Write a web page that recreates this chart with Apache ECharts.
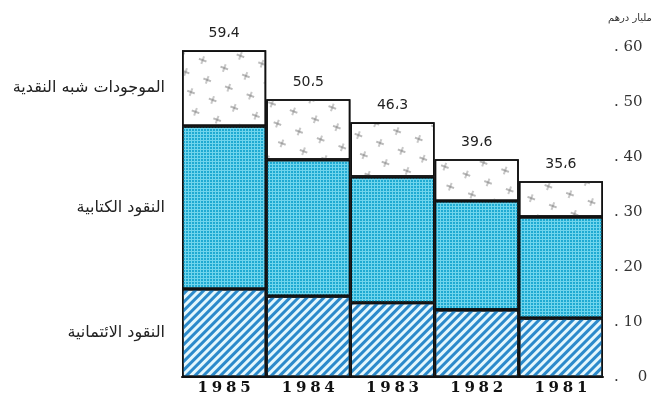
<!DOCTYPE html>
<html>
<head>
<meta charset="utf-8">
<script src="https://cdn.jsdelivr.net/npm/echarts@6/dist/echarts.min.js"></script>
<style>
  html, body { margin: 0; padding: 0; background: #fff; }
  #main { width: 653px; height: 406px; }
</style>
</head>
<body>
<div id="main"></div>
<script>
// years, left to right as in the picture
const years = ['1985', '1984', '1983', '1982', '1981'];
// milliards of dirhams
const creditMoney = [16.0, 14.7, 13.5, 12.2, 10.7];   // hatched, bottom
const bookMoney = [29.6, 24.8, 22.9, 19.8, 18.4];     // cyan grid, middle
const nearMoney = [13.8, 11.0, 9.9, 7.6, 6.5];        // crosses, top
const totals = [59.4, 50.5, 46.3, 39.6, 35.6];
const totalLabels = ['59،4', '50،5', '46،3', '39،6', '35،6'];
const seriesNames = ['النقود الائتمانية', 'النقود الكتابية', 'الموجودات شبه النقدية'];
const unitName = 'مليار درهم';

const chart = echarts.init(document.getElementById('main'));

const arabicFont = 'DejaVu Sans';
const border = { borderColor: '#111', borderWidth: 1.6 };

// only the 1985 bar carries the series name on its left side
function withSideLabel(values) {
  return values.map(function (v, i) {
    if (i === 0) {
      return { value: v, label: { show: true } };
    }
    return v;
  });
}

function sideLabel(name) {
  return {
    show: false,
    position: 'left',
    distance: 17,
    formatter: name,
    fontFamily: arabicFont,
    fontSize: 16,
    color: '#222'
  };
}

const plusPath = 'path://M4.5,0 H5.5 V4.5 H10 V5.5 H5.5 V10 H4.5 V5.5 H0 V4.5 H4.5 Z';

var option = {
  backgroundColor: '#ffffff',
  animation: false,
  grid: { left: 182, right: 50, top: 47, bottom: 29, outerBoundsMode: 'none' },
  xAxis: {
    type: 'category',
    data: years,
    axisTick: { show: false },
    axisLine: { lineStyle: { color: '#111', width: 2 } },
    axisLabel: {
      margin: 4,
      fontFamily: 'DejaVu Serif',
      fontWeight: 'bold',
      fontSize: 15,
      color: '#111',
      formatter: function (v) { return v.split('').join('\u2005'); }
    }
  },
  yAxis: {
    type: 'value',
    position: 'right',
    min: 0,
    max: 60,
    interval: 10,
    name: unitName,
    nameLocation: 'end',
    nameGap: 24,
    nameTextStyle: { fontFamily: arabicFont, fontSize: 10, color: '#333', align: 'left', padding: [0, 0, 0, 5] },
    splitLine: { show: false },
    axisLine: { show: false },
    axisTick: { show: false },
    axisLabel: {
      margin: 11,
      fontFamily: 'DejaVu Serif',
      fontSize: 15,
      color: '#333',
      formatter: function (v) { return v === 0 ? '.\u2007\u20070' : '. ' + v; }
    }
  },
  series: [
    {
      name: seriesNames[0],
      type: 'bar',
      stack: 'money',
      barCategoryGap: 0,
      data: withSideLabel(creditMoney),
      label: sideLabel(seriesNames[0]),
      itemStyle: Object.assign({
        color: '#e4f7fd',
        decal: {
          symbol: 'rect',
          color: '#2c8acb',
          dashArrayX: [1, 0],
          dashArrayY: [2.2, 2.4],
          rotation: -Math.PI / 4
        }
      }, border)
    },
    {
      name: seriesNames[1],
      type: 'bar',
      stack: 'money',
      data: withSideLabel(bookMoney),
      label: sideLabel(seriesNames[1]),
      itemStyle: Object.assign({
        color: '#70d5ec',
        decal: {
          symbol: 'rect',
          color: '#1faad2',
          dashArrayX: [2, 1],
          dashArrayY: [2, 1],
          rotation: 0
        }
      }, border)
    },
    {
      name: seriesNames[2],
      type: 'bar',
      stack: 'money',
      data: withSideLabel(nearMoney),
      label: sideLabel(seriesNames[2]),
      itemStyle: Object.assign({
        color: '#ffffff',
        decal: {
          symbol: plusPath,
          symbolSize: 1,
          color: '#777777',
          dashArrayX: [[8, 15], [0, 11, 8, 4]],
          dashArrayY: [8, 9],
          rotation: 0.35
        }
      }, border)
    },
    {
      name: 'total',
      type: 'bar',
      barGap: '-100%',
      silent: true,
      data: totals,
      itemStyle: { color: 'rgba(0,0,0,0)' },
      label: {
        show: true,
        position: 'top',
        distance: 10,
        fontFamily: arabicFont,
        fontSize: 14,
        color: '#222',
        formatter: function (p) { return totalLabels[p.dataIndex]; }
      },
      z: 1
    }
  ]
};

chart.setOption(option);
</script>
</body>
</html>
